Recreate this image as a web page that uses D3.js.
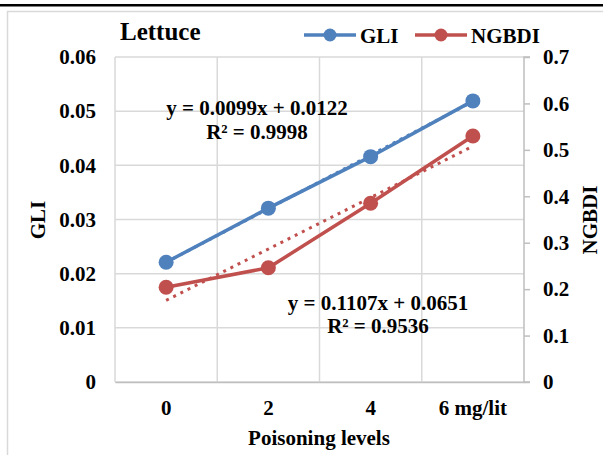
<!DOCTYPE html>
<html>
<head>
<meta charset="utf-8">
<script src="https://cdn.jsdelivr.net/npm/d3@7"></script>
<style>
  body { margin: 0; background: #fff; }
  svg text { font-family: "Liberation Serif", "Times New Roman", serif; font-weight: bold; fill: #000; }
</style>
</head>
<body>
<svg id="chart" width="603" height="455"></svg>
<script>
// categories and series
const levels = ["0", "2", "4", "6 mg/lit"];
const gli = [0.0221, 0.0321, 0.0416, 0.0519];
const ngbdi = [0.204, 0.246, 0.385, 0.530];

// linear trend lines printed on the chart (x = 1..4)
const gliTrend = [0.0099, 0.0122];
const ngbdiTrend = [0.1107, 0.0651];

const leftTicks = [0, 0.01, 0.02, 0.03, 0.04, 0.05, 0.06];
const rightTicks = [0, 0.1, 0.2, 0.3, 0.4, 0.5, 0.6, 0.7];

const blue = "#4f81bd", red = "#c0504d";
const plot = { left: 115, right: 524, top: 57, bottom: 382 };
const fs = "21px";

const svg = d3.select("#chart");

// page rule and chart frame
svg.append("rect").attr("x", 0).attr("y", 4).attr("width", 603).attr("height", 2.5).attr("fill", "#000");
svg.append("path")
    .attr("d", "M7.5,455 V11.5 H603")
    .attr("fill", "none").attr("stroke", "#d9d9d9").attr("stroke-width", 1.5);

const x = d3.scaleBand().domain(levels).range([plot.left, plot.right]);
const cx = d => x(d) + x.bandwidth() / 2;
const yL = d3.scaleLinear().domain([0, 0.06]).range([plot.bottom, plot.top]);
const yR = d3.scaleLinear().domain([0, 0.7]).range([plot.bottom, plot.top]);

// gridlines
const grid = svg.append("g").attr("stroke", "#d9d9d9").attr("stroke-width", 1.5);
leftTicks.forEach(t => grid.append("line")
    .attr("x1", plot.left).attr("x2", plot.right).attr("y1", yL(t)).attr("y2", yL(t)));
levels.forEach(l => grid.append("line")
    .attr("x1", x(l)).attr("x2", x(l)).attr("y1", plot.top).attr("y2", plot.bottom));

// axes
const fmt = d => d === 0 ? "0" : d3.format(".2f")(d);
const axL = svg.append("g").attr("transform", `translate(${plot.left},0)`)
    .call(d3.axisLeft(yL).tickValues(leftTicks).tickFormat(fmt).tickSize(0).tickPadding(19));
const axR = svg.append("g").attr("transform", `translate(${plot.right},0)`)
    .call(d3.axisRight(yR).tickValues(rightTicks).tickFormat(d => d === 0 ? "0" : d3.format(".1f")(d)).tickSize(6).tickPadding(13));
const axB = svg.append("g").attr("transform", `translate(0,${plot.bottom})`)
    .call(d3.axisBottom(x).tickSize(0).tickPadding(18));
[axL, axR, axB].forEach(a => {
    a.attr("font-size", null).attr("font-family", null);
    a.selectAll("text").style("font-size", fs);
    a.selectAll("line").attr("stroke", "#bfbfbf").attr("stroke-width", 1.5);
});
axL.select(".domain").remove();
axB.select(".domain").attr("stroke", "#bfbfbf").attr("stroke-width", 1.5);
axR.select(".domain").attr("stroke", "#bfbfbf").attr("stroke-width", 1.5).attr("d", `M6,${plot.top}H0V${plot.bottom}H6`);

// axis titles
svg.append("text").attr("transform", "translate(45,220) rotate(-90)").attr("text-anchor", "middle")
    .style("font-size", fs).text("GLI");
svg.append("text").attr("transform", "translate(597,220) rotate(-90)").attr("text-anchor", "middle")
    .style("font-size", fs).text("NGBDI");
svg.append("text").attr("x", 319).attr("y", 445).attr("text-anchor", "middle")
    .style("font-size", fs).text("Poisoning levels");

// trend lines (dotted)
function trend(coef, y, color) {
    const pts = [levels[0], levels[levels.length - 1]].map(l => [cx(l), y(coef[0] * (levels.indexOf(l) + 1) + coef[1])]);
    svg.append("path").attr("d", d3.line()(pts))
        .attr("fill", "none").attr("stroke", color).attr("stroke-width", 3)
        .attr("stroke-dasharray", "3,5");
}
trend(gliTrend, yL, blue);
trend(ngbdiTrend, yR, red);

// series lines + markers
function series(vals, y, color) {
    const line = d3.line().x((d, i) => cx(levels[i])).y(d => y(d));
    svg.append("path").datum(vals).attr("d", line)
        .attr("fill", "none").attr("stroke", color).attr("stroke-width", 3.5);
    svg.append("g").selectAll("circle").data(vals).join("circle")
        .attr("cx", (d, i) => cx(levels[i])).attr("cy", d => y(d)).attr("r", 7.5).attr("fill", color);
}
series(gli, yL, blue);
series(ngbdi, yR, red);

// equations
svg.append("text").attr("x", 257).attr("y", 115).attr("text-anchor", "middle").style("font-size", fs)
    .text("y = 0.0099x + 0.0122");
svg.append("text").attr("x", 257).attr("y", 139).attr("text-anchor", "middle").style("font-size", fs)
    .text("R² = 0.9998");
svg.append("text").attr("x", 378).attr("y", 310).attr("text-anchor", "middle").style("font-size", fs)
    .text("y = 0.1107x + 0.0651");
svg.append("text").attr("x", 378).attr("y", 333).attr("text-anchor", "middle").style("font-size", fs)
    .text("R² = 0.9536");

// title and legend
svg.append("text").attr("x", 120).attr("y", 40).style("font-size", "25px").text("Lettuce");
const legend = [["GLI", blue, 304], ["NGBDI", red, 415]];
legend.forEach(([name, color, lx]) => {
    const g = svg.append("g");
    g.append("line").attr("x1", lx).attr("x2", lx + 52).attr("y1", 35).attr("y2", 35)
        .attr("stroke", color).attr("stroke-width", 3.5);
    g.append("circle").attr("cx", lx + 26).attr("cy", 35).attr("r", 6.5).attr("fill", color);
    g.append("text").attr("x", lx + 56).attr("y", 43).style("font-size", fs).text(name);
});
</script>
</body>
</html>
